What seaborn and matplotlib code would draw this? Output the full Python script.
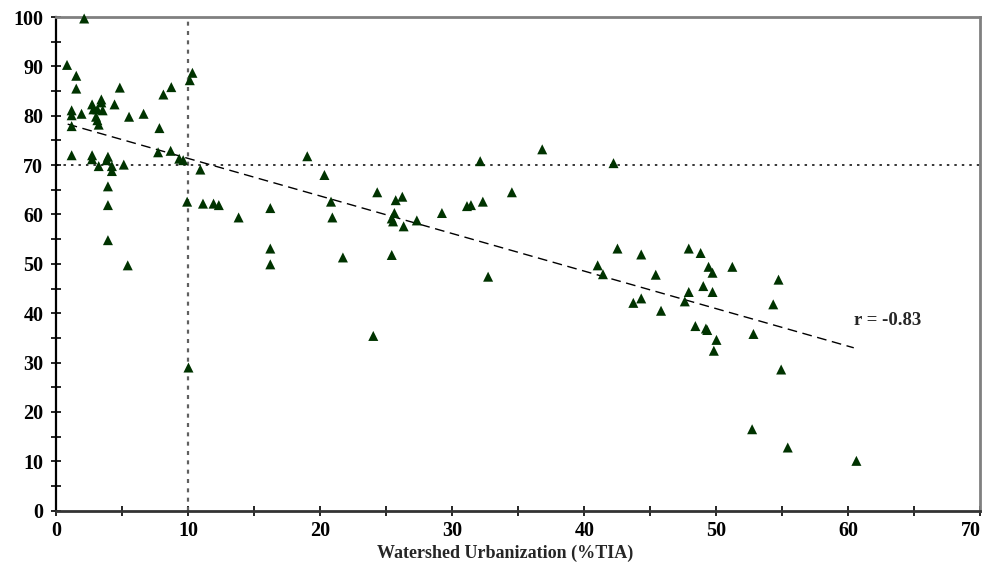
import matplotlib
matplotlib.use("Agg")
import matplotlib.pyplot as plt
import seaborn as sns
import pandas as pd
from matplotlib.ticker import MultipleLocator

# ---- data ----
tia = [2.1, 0.8, 1.5, 1.5, 4.8, 8.7, 8.1, 10.3, 10.1, 2.7,
       3.4, 3.4, 4.4, 2.8, 3.1, 3.5, 1.15, 1.15, 1.9, 3.0,
       3.1, 3.2, 5.5, 6.6, 1.15, 7.8, 1.15, 2.7, 2.7, 3.9,
       3.8, 3.2, 4.2, 4.2, 5.1, 7.7, 8.65, 9.3, 9.6, 10.9,
       3.9, 3.9, 9.9, 11.1, 11.9, 12.3, 13.8, 3.9, 5.4, 10.0,
       19.0, 32.1, 36.8, 20.3, 24.3, 26.2, 25.7, 34.5, 20.8, 16.2,
       31.1, 31.4, 32.3, 29.2, 20.9, 25.6, 25.4, 25.5, 27.3, 26.3,
       16.2, 16.2, 21.7, 25.4, 32.7, 24.0, 42.2,
       41.0, 41.4, 42.5, 44.3, 47.9, 48.8, 45.4, 49.4, 49.7, 51.2,
       54.7, 49.0, 49.7, 47.9, 47.6, 44.3, 43.7, 54.3, 45.8, 48.4,
       49.2, 49.3, 52.8, 50.0, 49.8, 54.9, 52.7, 55.4, 60.6]
score = [99.7, 90.3, 88.1, 85.5, 85.7, 85.8, 84.3, 88.7, 87.2, 82.3,
         83.3, 82.7, 82.3, 81.3, 81.3, 81.1, 81.1, 80.1, 80.4, 79.8,
         79.1, 78.2, 79.8, 80.4, 77.9, 77.5, 72.0, 72.0, 71.2, 71.7,
         71.0, 69.8, 69.8, 68.8, 70.1, 72.6, 72.9, 71.3, 71.0, 69.1,
         65.7, 61.9, 62.6, 62.2, 62.2, 61.9, 59.4, 54.8, 49.7, 29.0,
         71.8, 70.8, 73.2, 68.0, 64.5, 63.6, 62.9, 64.5, 62.6, 61.3,
         61.7, 61.9, 62.6, 60.3, 59.4, 60.3, 59.2, 58.6, 58.8, 57.6,
         53.1, 49.9, 51.3, 51.8, 47.4, 35.4, 70.4,
         49.7, 47.9, 53.1, 51.9, 53.1, 52.2, 47.8, 49.4, 48.2, 49.4,
         46.8, 45.5, 44.3, 44.3, 42.4, 43.0, 42.1, 41.8, 40.5, 37.4,
         36.9, 36.6, 35.8, 34.6, 32.4, 28.6, 16.5, 12.8, 10.1]

trend_tia = [0.85, 60.4]
trend_score = [78.3, 33.0]

threshold_tia = 10
threshold_score = 70
r_label = "r = -0.83"
r_pos = (60.4, 38.6)

x_label = "Watershed Urbanization (%TIA)"
x_limits = (0, 70)
y_limits = (0, 100)

df = pd.DataFrame({"tia": tia, "score": score})
trend = pd.DataFrame({"tia": trend_tia, "score": trend_score})

# ---- style ----
sns.set_style("ticks")
plt.rcParams["font.family"] = ["Liberation Serif", "DejaVu Serif"]
plt.rcParams["font.weight"] = "bold"

fig = plt.figure(figsize=(9.87, 5.71), dpi=100)
ax = fig.add_axes([0.0572, 0.1056, 0.9362, 0.8646])

# reference lines
ax.axvline(threshold_tia, color="#606060", lw=1.6,
           linestyle=(0, (1.8, 2.4)), zorder=1)
ax.axhline(threshold_score, color="black", lw=1.1,
           linestyle=(0, (1.6, 3.3)), zorder=1)

# trend line
sns.lineplot(data=trend, x="tia", y="score", ax=ax, color="black",
             lw=1.0, linestyle=(0, (7, 4)), estimator=None, sort=False,
             zorder=2)

# points
sns.scatterplot(data=df, x="tia", y="score", ax=ax, marker="^", s=52,
                color="#003300", edgecolor="none", linewidth=0,
                clip_on=False, zorder=3)

ax.text(r_pos[0], r_pos[1], r_label, fontsize=13.5, fontweight="bold",
        ha="left", va="center")

ax.set_xlim(*x_limits)
ax.set_ylim(*y_limits)
ax.xaxis.set_major_locator(MultipleLocator(10))
ax.xaxis.set_minor_locator(MultipleLocator(5))
ax.yaxis.set_major_locator(MultipleLocator(10))
ax.yaxis.set_minor_locator(MultipleLocator(5))

ax.tick_params(which="both", direction="inout", length=7, width=1.2,
               colors="black", top=False, right=False)
ax.tick_params(axis="x", which="major", labelsize=14.5, pad=4)
ax.tick_params(axis="y", which="major", labelsize=14.5, pad=6)

ax.set_xlabel(x_label, fontsize=13, fontweight="bold")
ax.set_ylabel("")
ax.xaxis.set_label_coords(0.486, -0.068)

for side in ["left", "bottom"]:
    ax.spines[side].set_color("black")
    ax.spines[side].set_linewidth(1.6)
ax.spines["bottom"].set_color("#333333")
ax.spines["bottom"].set_linewidth(2.0)
for side in ["top", "right"]:
    ax.spines[side].set_visible(True)
    ax.spines[side].set_color("#808080")
    ax.spines[side].set_linewidth(2.0)

fig.canvas.draw()
for t in ax.xaxis.get_major_ticks() + ax.yaxis.get_major_ticks():
    t.label1.set_fontweight("bold")
for t in ax.xaxis.get_major_ticks():
    if abs(t.get_loc() - x_limits[1]) < 1e-9:
        t.label1.set_horizontalalignment("right")

fig.savefig("out.png", dpi=100)
